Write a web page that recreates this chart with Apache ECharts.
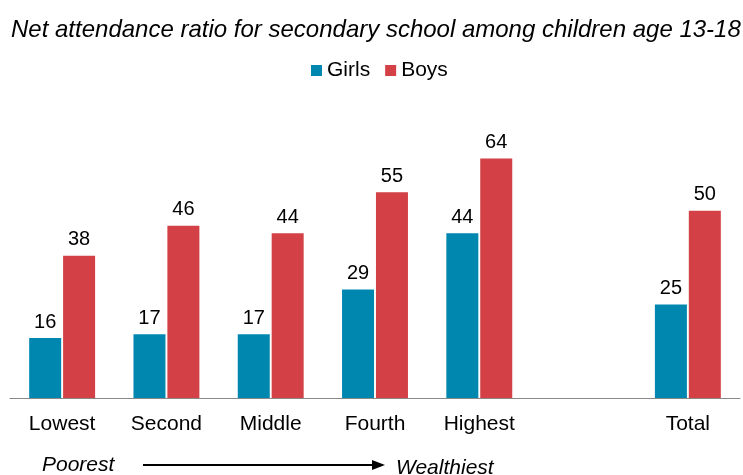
<!DOCTYPE html>
<html><head><meta charset="utf-8">
<script src="https://cdn.jsdelivr.net/npm/echarts@6/dist/echarts.min.js"></script>
<style>html,body{margin:0;padding:0;background:#fff}#c{width:743px;height:475px}</style>
</head><body><div id="c"></div>
<script>
const categories = ['Lowest','Second','Middle','Fourth','Highest','','Total'];
const girls = [16,17,17,29,44,null,25];
const boys = [38,46,44,55,64,null,50];
const seriesNames = ['Girls','Boys'];
const titleText = 'Net attendance ratio for secondary school among children age 13-18';
const FONT = 'Liberation Sans, Arial, sans-serif';
const chart = echarts.init(document.getElementById('c'), null, {renderer:'canvas'});
const lbl = {show:true, position:'top', distance:6, color:'#000', fontSize:20, fontFamily:FONT};
chart.setOption({
  animation:false,
  title:{text:titleText, left:11, top:18, padding:0, textStyle:{fontStyle:'italic', fontWeight:'normal', fontSize:24, color:'#000', fontFamily:FONT}},
  legend:{top:60, left:311, padding:0, itemWidth:11, itemHeight:11, itemGap:15, icon:'rect',
    textStyle:{fontSize:21, color:'#000', fontFamily:FONT}},
  grid:{left:10, right:3, top:136, bottom:77, containLabel:false},
  xAxis:{type:'category', data:categories, axisTick:{show:false},
    axisLine:{lineStyle:{color:'#888', width:1}},
    axisLabel:{fontSize:21, color:'#000', fontFamily:FONT, margin:16}},
  yAxis:{type:'value', min:0, max:70, show:false, splitLine:{show:false}},
  series:[
    {name:seriesNames[0], type:'bar', data:girls, barWidth:32, barGap:'6%', itemStyle:{color:'#0087b0'}, label:lbl},
    {name:seriesNames[1], type:'bar', data:boys, barWidth:32, barGap:'6%', itemStyle:{color:'#d34045'}, label:lbl}
  ],
  graphic:[
    {type:'text', x:42, y:465, style:{text:'Poorest', fontSize:21, fontStyle:'italic', fill:'#000', fontFamily:FONT, verticalAlign:'middle'}},
    {type:'line', shape:{x1:143, y1:465, x2:376, y2:465}, style:{stroke:'#000', lineWidth:2}},
    {type:'polygon', shape:{points:[[385,465],[372,460],[372,470]]}, style:{fill:'#000'}},
    {type:'text', x:396, y:468, style:{text:'Wealthiest', fontSize:21, fontStyle:'italic', fill:'#000', fontFamily:FONT, verticalAlign:'middle'}}
  ]
});
</script></body></html>
